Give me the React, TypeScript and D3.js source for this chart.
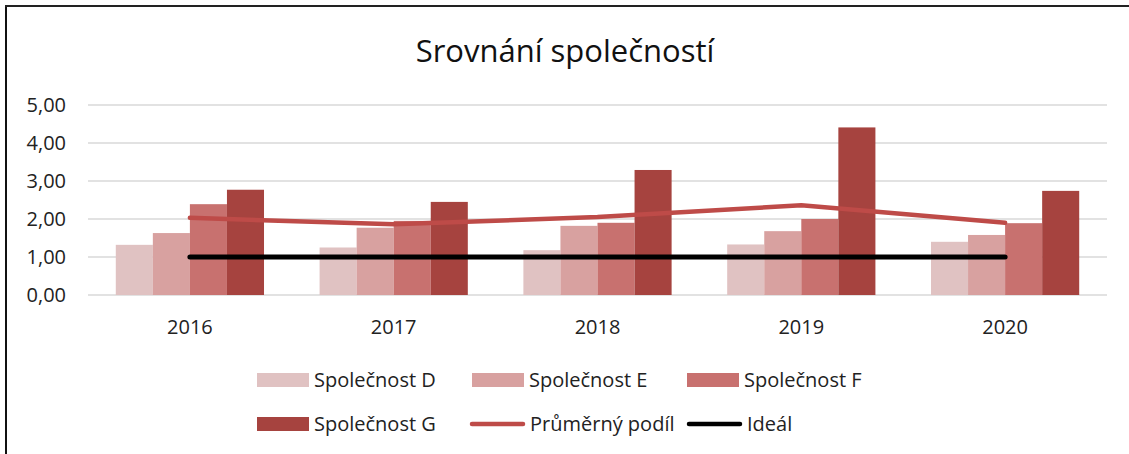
import React, { useEffect, useRef } from 'react';
import * as d3 from 'd3';

const years = ['2016', '2017', '2018', '2019', '2020'];
const seriesNames = ['Společnost D', 'Společnost E', 'Společnost F', 'Společnost G'];
const valuesD = [1.32, 1.25, 1.18, 1.33, 1.40];
const valuesE = [1.63, 1.77, 1.82, 1.68, 1.58];
const valuesF = [2.39, 1.95, 1.90, 2.00, 1.89];
const valuesG = [2.77, 2.45, 3.29, 4.41, 2.74];
const averageShare = [2.03, 1.86, 2.05, 2.36, 1.90];
const ideal = [1, 1, 1, 1, 1];
const yTicks = [0, 1, 2, 3, 4, 5];

const barColors = ['#E0C2C2', '#D8A1A0', '#C8716F', '#A6433F'];
const avgColor = '#BE4B48';
const font = '"Open Sans", Lato, sans-serif';

const App = () => {
  const ref = useRef<SVGSVGElement>(null);

  useEffect(() => {
    const svg = d3.select(ref.current);
    svg.selectAll('*').remove();

    const left = 88;
    const right = 1107;
    const top = 105;
    const bottom = 295;

    // frame (only left and top edges are visible in the crop)
    svg.append('line').attr('x1', 6).attr('x2', 6).attr('y1', 6).attr('y2', 454)
      .attr('stroke', '#111').attr('stroke-width', 2);
    svg.append('line').attr('x1', 5).attr('x2', 1129).attr('y1', 6).attr('y2', 6)
      .attr('stroke', '#222').attr('stroke-width', 2);

    svg.append('text')
      .attr('x', 565).attr('y', 62)
      .attr('text-anchor', 'middle')
      .attr('font-family', font)
      .attr('font-size', 31)
      .attr('fill', '#111')
      .text('Srovnání společností');

    const x = d3.scaleBand().domain(years).range([left, right]).paddingInner(0).paddingOuter(0);
    const y = d3.scaleLinear().domain([0, 5]).range([bottom, top]);

    const grid = svg.append('g');
    grid.selectAll('line')
      .data(yTicks)
      .enter()
      .append('line')
      .attr('x1', left).attr('x2', right)
      .attr('y1', d => y(d)).attr('y2', d => y(d))
      .attr('stroke', '#D9D9D9').attr('stroke-width', 1.5);

    grid.selectAll('text')
      .data(yTicks)
      .enter()
      .append('text')
      .attr('x', 66).attr('y', d => y(d))
      .attr('dy', '0.36em')
      .attr('text-anchor', 'end')
      .attr('font-family', font)
      .attr('font-size', 20)
      .attr('fill', '#222')
      .text(d => d3.format('.2f')(d).replace('.', ','));

    const all = [valuesD, valuesE, valuesF, valuesG];
    const inner = d3.scaleBand().domain(seriesNames).range([0, x.bandwidth()]).paddingOuter(0.75).paddingInner(0);

    all.forEach((vals, si) => {
      svg.append('g').selectAll('rect')
        .data(vals)
        .enter()
        .append('rect')
        .attr('x', (d, i) => (x(years[i]) as number) + (inner(seriesNames[si]) as number))
        .attr('y', d => y(d))
        .attr('width', inner.bandwidth())
        .attr('height', d => y(0) - y(d))
        .attr('fill', barColors[si]);
    });

    const cx = (i: number) => (x(years[i]) as number) + x.bandwidth() / 2;
    const line = d3.line<number>().x((d, i) => cx(i)).y(d => y(d));

    svg.append('path').datum(averageShare)
      .attr('d', line).attr('fill', 'none')
      .attr('stroke', avgColor).attr('stroke-width', 4.5)
      .attr('stroke-linecap', 'round').attr('stroke-linejoin', 'round');

    svg.append('path').datum(ideal)
      .attr('d', line).attr('fill', 'none')
      .attr('stroke', '#000').attr('stroke-width', 5)
      .attr('stroke-linecap', 'round').attr('stroke-linejoin', 'round');

    svg.append('g').selectAll('text')
      .data(years)
      .enter()
      .append('text')
      .attr('x', d => (x(d) as number) + x.bandwidth() / 2)
      .attr('y', 334)
      .attr('text-anchor', 'middle')
      .attr('font-family', font)
      .attr('font-size', 20)
      .attr('fill', '#222')
      .text(d => d);

    // legend
    const legendItems = [
      { name: 'Společnost D', type: 'bar', color: barColors[0] },
      { name: 'Společnost E', type: 'bar', color: barColors[1] },
      { name: 'Společnost F', type: 'bar', color: barColors[2] },
      { name: 'Společnost G', type: 'bar', color: barColors[3] },
      { name: 'Průměrný podíl', type: 'line', color: avgColor },
      { name: 'Ideál', type: 'line', color: '#000' },
    ];
    const colX = [257, 472, 687];
    const rowY = [380, 424];

    const lg = svg.append('g').selectAll('g')
      .data(legendItems)
      .enter()
      .append('g')
      .attr('transform', (d, i) => {
        const col = i % 3;
        const row = Math.floor(i / 3);
        const xx = i === 4 ? 470 : colX[col];
        return `translate(${xx},${rowY[row]})`;
      });

    lg.filter(d => d.type === 'bar').append('rect')
      .attr('x', 0).attr('y', -7).attr('width', 52).attr('height', 14)
      .attr('fill', d => d.color);

    lg.filter(d => d.type === 'line').append('line')
      .attr('x1', 2).attr('x2', 53).attr('y1', 0).attr('y2', 0)
      .attr('stroke', d => d.color).attr('stroke-width', 4.5)
      .attr('stroke-linecap', 'round');

    lg.append('text')
      .attr('x', (d, i) => (i === 4 ? 60 : i === 5 ? 60 : 57))
      .attr('y', 0).attr('dy', '0.36em')
      .attr('font-family', font)
      .attr('font-size', 20)
      .attr('fill', '#222')
      .text(d => d.name);
  }, []);

  return (
    <svg
      ref={ref}
      width={1129}
      height={454}
      style={{ position: 'absolute', left: 0, top: 0, background: '#fff' }}
    />
  );
};

export default App;
